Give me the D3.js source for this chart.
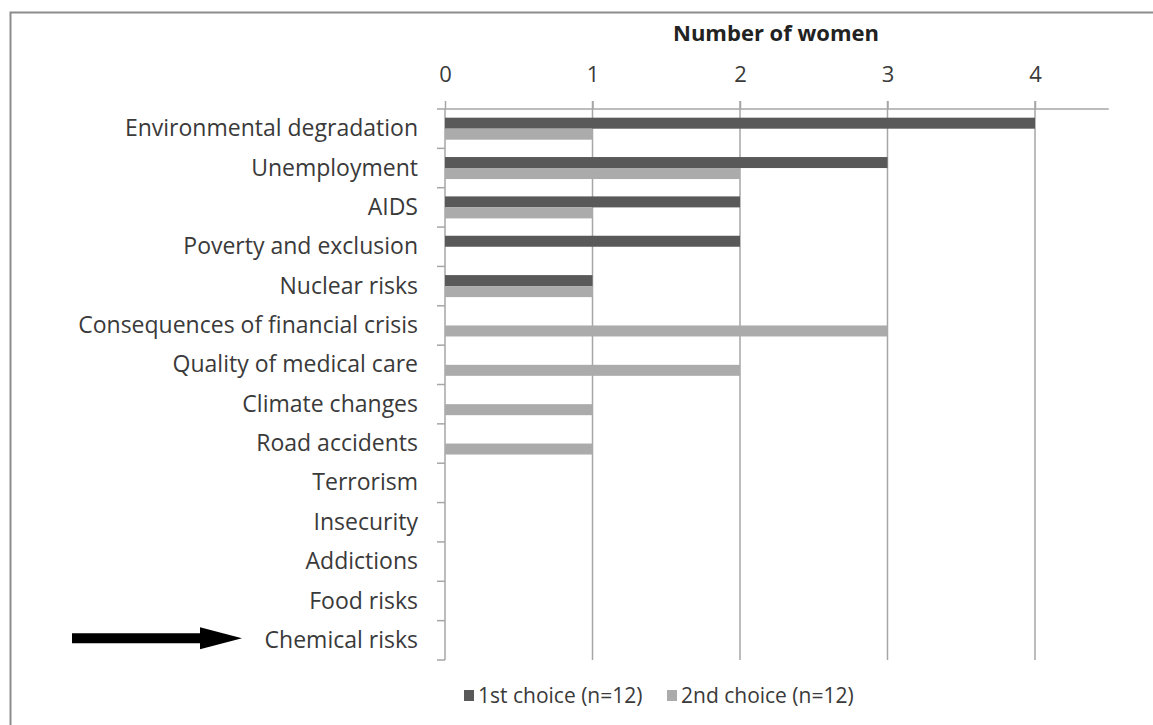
<!DOCTYPE html>
<html lang="en">
<head>
    <meta charset="utf-8">
    <title>Number of women</title>
    <script src="https://d3js.org/d3.v7.min.js"></script>
    <style>
        body {
            margin: 0;
            background: white;
            font-family: "Open Sans", sans-serif;
        }
        .lbl { fill: #3a3a3a; font-size: 23px; }
    </style>
</head>
<body>
<script>

    var categories = ["Environmental degradation", "Unemployment", "AIDS", "Poverty and exclusion",
        "Nuclear risks", "Consequences of financial crisis", "Quality of medical care", "Climate changes",
        "Road accidents", "Terrorism", "Insecurity", "Addictions", "Food risks", "Chemical risks"];
    var firstChoice  = [4, 3, 2, 2, 1, 0, 0, 0, 0, 0, 0, 0, 0, 0];
    var secondChoice = [1, 2, 1, 0, 1, 3, 2, 1, 1, 0, 0, 0, 0, 0];
    var seriesNames = ["1st choice (n=12)", "2nd choice (n=12)"];
    var tickValues = [0, 1, 2, 3, 4];

    var w = 1153, h = 725;
    var plotL = 445, plotR = 1108.75, plotT = 109, plotB = 660;
    var colors = ["#595959", "#ababab"];

    var svg = d3.select("body").append("svg")
        .attr("width", w)
        .attr("height", h);

    svg.append("rect").attr("width", w).attr("height", h).attr("fill", "white");

    //frame round the chart (only top and left show)
    svg.append("rect")
        .attr("x", 10.5).attr("y", 12.5)
        .attr("width", 1300).attr("height", 900)
        .attr("fill", "none")
        .attr("stroke", "#8c8c8c")
        .attr("stroke-width", 2);

    var xScale = d3.scaleLinear()
        .domain([0, 4.5])
        .range([plotL, plotR]);

    var yScale = d3.scaleBand()
        .domain(categories)
        .range([plotT, plotB]);

    var bw = yScale.bandwidth();
    var inner = d3.scaleBand()
        .domain([0, 1])
        .range([bw / 2 - 11, bw / 2 + 11]);

    //gridlines
    svg.selectAll("line.grid")
        .data(tickValues.slice(1))
        .enter()
        .append("line")
        .attr("class", "grid")
        .attr("x1", function(d){ return xScale(d); })
        .attr("x2", function(d){ return xScale(d); })
        .attr("y1", plotT - 8)
        .attr("y2", plotB)
        .attr("stroke", "#a6a6a6")
        .attr("stroke-width", 1.5);

    //top axis
    var xAxis = d3.axisTop(xScale)
        .tickValues(tickValues)
        .tickSize(8)
        .tickPadding(19)
        .tickFormat(d3.format("d"));

    var gx = svg.append("g")
        .attr("transform", "translate(0," + plotT + ")")
        .call(xAxis);
    gx.select(".domain").attr("stroke", "#a6a6a6").attr("stroke-width", 1.5)
        .attr("d", "M" + plotL + ",0H" + plotR);
    gx.selectAll(".tick line").attr("stroke", "#a6a6a6").attr("stroke-width", 1.5);
    gx.selectAll(".tick text")
        .attr("fill", "#3a3a3a")
        .attr("dy", 0)
        .style("font-family", "'Open Sans', sans-serif")
        .style("font-size", "22px");

    svg.append("text")
        .attr("x", 776)
        .attr("y", 41)
        .attr("text-anchor", "middle")
        .attr("fill", "#222")
        .style("font-size", "22px")
        .style("font-weight", "bold")
        .text("Number of women");

    //left axis with ticks between categories
    svg.append("line")
        .attr("x1", plotL).attr("x2", plotL)
        .attr("y1", plotT).attr("y2", plotB)
        .attr("stroke", "#a6a6a6")
        .attr("stroke-width", 1.5);

    svg.selectAll("line.ytick")
        .data(d3.range(categories.length + 1))
        .enter()
        .append("line")
        .attr("class", "ytick")
        .attr("x1", plotL - 8).attr("x2", plotL)
        .attr("y1", function(i){ return plotT + i * bw; })
        .attr("y2", function(i){ return plotT + i * bw; })
        .attr("stroke", "#a6a6a6")
        .attr("stroke-width", 1.5);

    svg.selectAll("text.cat")
        .data(categories)
        .enter()
        .append("text")
        .attr("class", "lbl cat")
        .attr("x", 418)
        .attr("y", function(d){ return yScale(d) + bw / 2; })
        .attr("dy", "0.33em")
        .attr("text-anchor", "end")
        .text(function(d){ return d; });

    //bars
    var series = [firstChoice, secondChoice];
    series.forEach(function(vals, s){
        svg.selectAll("rect.s" + s)
            .data(vals)
            .enter()
            .append("rect")
            .attr("class", "s" + s)
            .attr("x", xScale(0))
            .attr("y", function(d, i){ return yScale(categories[i]) + inner(s); })
            .attr("width", function(d){ return xScale(d) - xScale(0); })
            .attr("height", inner.bandwidth())
            .attr("fill", colors[s]);
    });

    //legend
    var legendX = [464, 667];
    var legend = svg.selectAll("g.legend")
        .data(seriesNames)
        .enter()
        .append("g")
        .attr("class", "legend")
        .attr("transform", function(d, i){ return "translate(" + legendX[i] + ",696)"; });
    legend.append("rect")
        .attr("x", 0).attr("y", -6)
        .attr("width", 10).attr("height", 11)
        .attr("fill", function(d, i){ return colors[i]; });
    legend.append("text")
        .attr("class", "lbl")
        .attr("x", 14)
        .attr("dy", "0.35em")
        .style("font-size", "21px")
        .text(function(d){ return d; });

    //arrow pointing at Chemical risks
    var ay = yScale("Chemical risks") + bw / 2 - 2;
    svg.append("path")
        .attr("d", "M72," + (ay - 5) + "H200V" + (ay - 11) + "L242," + ay + "L200," + (ay + 11) + "V" + (ay + 5) + "H72Z")
        .attr("fill", "black");

</script>
</body>
</html>
